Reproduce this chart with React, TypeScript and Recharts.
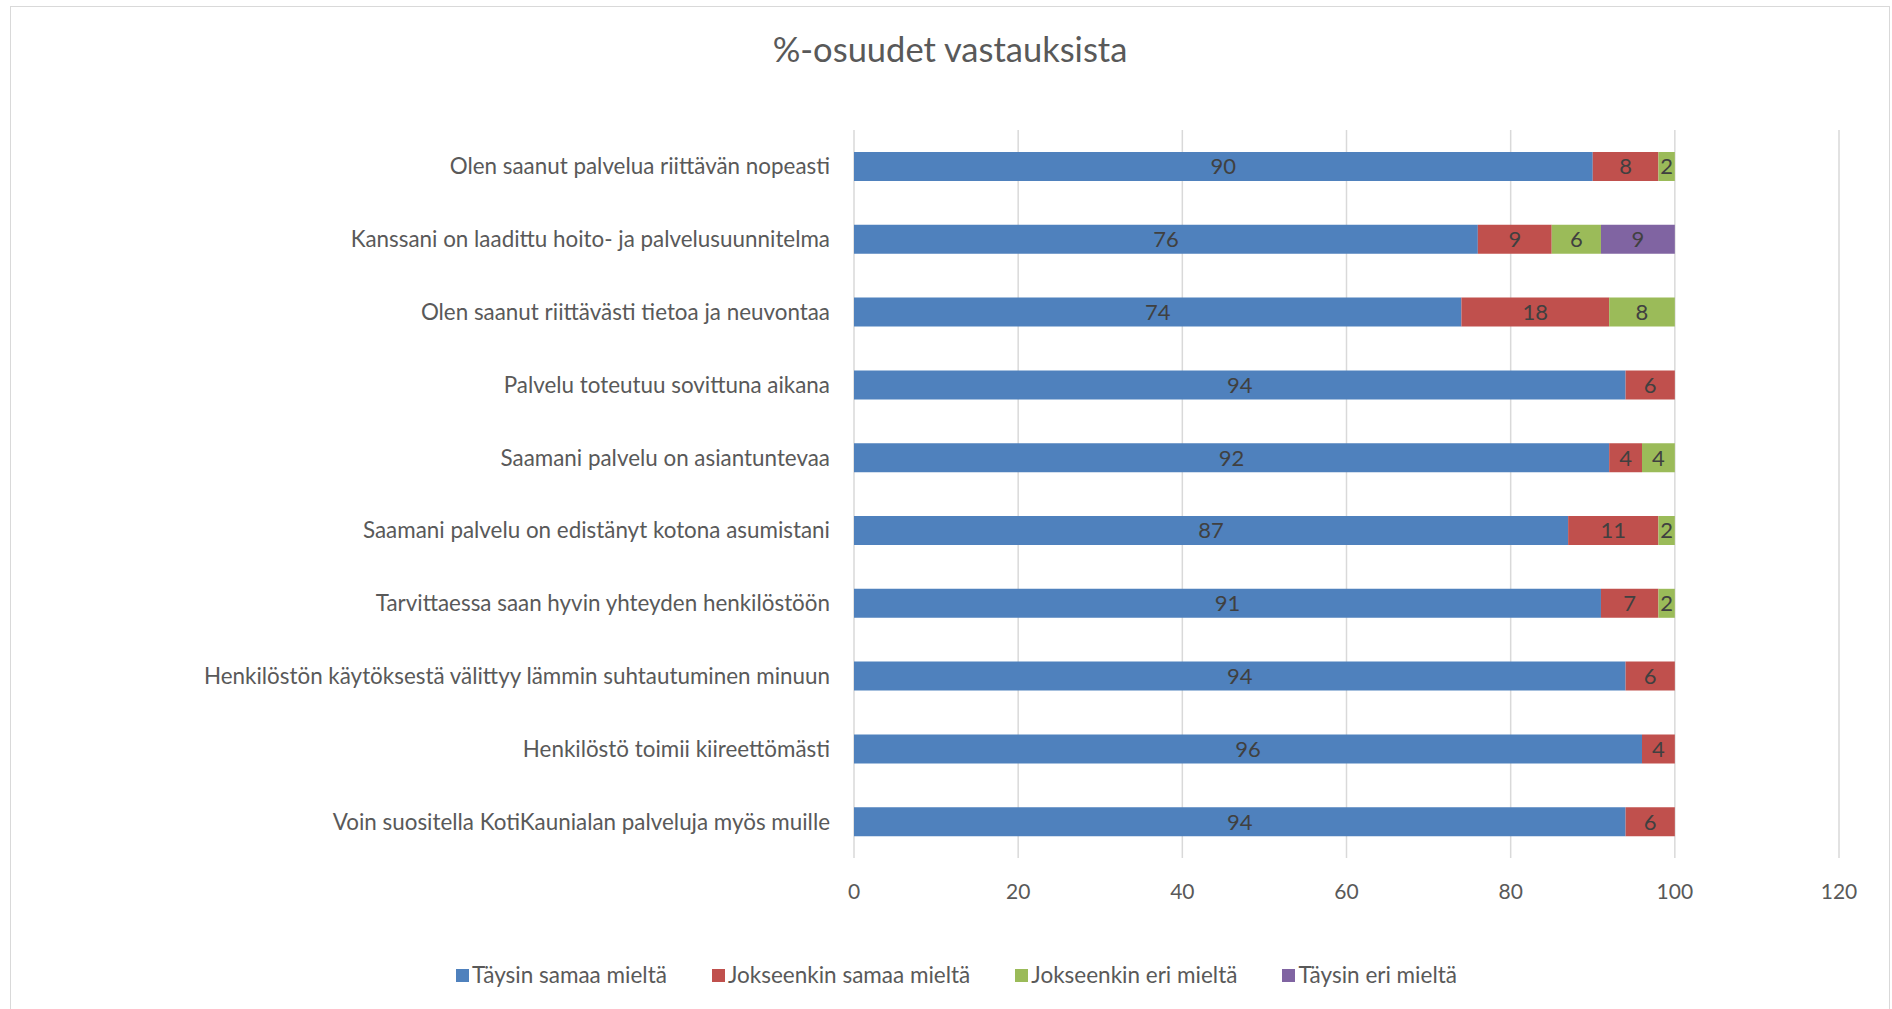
import React from "react"
import { Bar, BarChart, CartesianGrid, XAxis, YAxis, Legend, LabelList } from "recharts"

// kysymykset ylhäältä alas
const questions = [
  "Olen saanut palvelua riittävän nopeasti",
  "Kanssani on laadittu hoito- ja palvelusuunnitelma",
  "Olen saanut riittävästi tietoa ja neuvontaa",
  "Palvelu toteutuu sovittuna aikana",
  "Saamani palvelu on asiantuntevaa",
  "Saamani palvelu on edistänyt kotona asumistani",
  "Tarvittaessa saan hyvin yhteyden henkilöstöön",
  "Henkilöstön käytöksestä välittyy lämmin suhtautuminen minuun",
  "Henkilöstö toimii kiireettömästi",
  "Voin suositella KotiKaunialan palveluja myös muille",
]

const taysinSamaa = [90, 76, 74, 94, 92, 87, 91, 94, 96, 94]
const jokseenkinSamaa = [8, 9, 18, 6, 4, 11, 7, 6, 4, 6]
const jokseenkinEri = [2, 6, 8, null, 4, 2, 2, null, null, null]
const taysinEri = [null, 9, null, null, null, null, null, null, null, null]

const xTicks = [0, 20, 40, 60, 80, 100, 120]

const series = [
  { key: "ts", label: "Täysin samaa mieltä", color: "#4F81BD", values: taysinSamaa },
  { key: "js", label: "Jokseenkin samaa mieltä", color: "#C0504D", values: jokseenkinSamaa },
  { key: "je", label: "Jokseenkin eri mieltä", color: "#9BBB59", values: jokseenkinEri },
  { key: "te", label: "Täysin eri mieltä", color: "#8064A2", values: taysinEri },
]

const data = questions.map((q, i) => {
  const row: any = { name: q }
  series.forEach((s) => {
    row[s.key] = s.values[i]
  })
  return row
})

const FONT = "Lato, 'Open Sans', sans-serif"

const renderLegend = () => (
  <div style={{ display: "flex", paddingLeft: 456, gap: 45, fontFamily: FONT, fontSize: 22.5, color: "#595959", lineHeight: "28px" }}>
    {series.map((s) => (
      <div key={s.key} style={{ display: "flex", alignItems: "center" }}>
        <span style={{ width: 13, height: 13, background: s.color, display: "inline-block", marginRight: 3 }} />
        <span>{s.label}</span>
      </div>
    ))}
  </div>
)

export default function App() {
  return (
    <div style={{ position: "absolute", left: 0, top: 0, width: 1892, height: 1009, background: "#fff", overflow: "hidden", fontFamily: FONT }}>
      <div style={{ position: "absolute", left: 10, top: 6, width: 1878, height: 1020, border: "1.5px solid #D9D9D9" }} />
      <div style={{ position: "absolute", left: 0, width: 1900, top: 28, textAlign: "center", fontSize: 34.5, color: "#595959" }}>
        %-osuudet vastauksista
      </div>
      <BarChart
        width={1892}
        height={1009}
        data={data}
        layout="vertical"
        margin={{ top: 130, right: 53, bottom: 93, left: 0 }}
        barSize={29}
      >
        <CartesianGrid horizontal={false} stroke="#D9D9D9" strokeWidth={1.5} />
        <XAxis
          type="number"
          domain={[0, 120]}
          ticks={xTicks}
          axisLine={false}
          tickLine={false}
          tickMargin={20}
          tick={{ fill: "#595959", fontSize: 21, fontFamily: FONT }}
        />
        <YAxis
          type="category"
          dataKey="name"
          width={854}
          axisLine={false}
          tickLine={false}
          tickMargin={18}
          interval={0}
          tick={{ fill: "#595959", fontSize: 22.4, fontFamily: FONT }}
        />
        <Legend content={renderLegend} wrapperStyle={{ left: 0, top: 961, width: 1892 }} />
        {series.map((s) => (
          <Bar key={s.key} dataKey={s.key} name={s.label} stackId="a" fill={s.color} isAnimationActive={false}>
            <LabelList dataKey={s.key} position="center" fill="#404040" fontSize={22} fontFamily={FONT} />
          </Bar>
        ))}
      </BarChart>
    </div>
  )
}
